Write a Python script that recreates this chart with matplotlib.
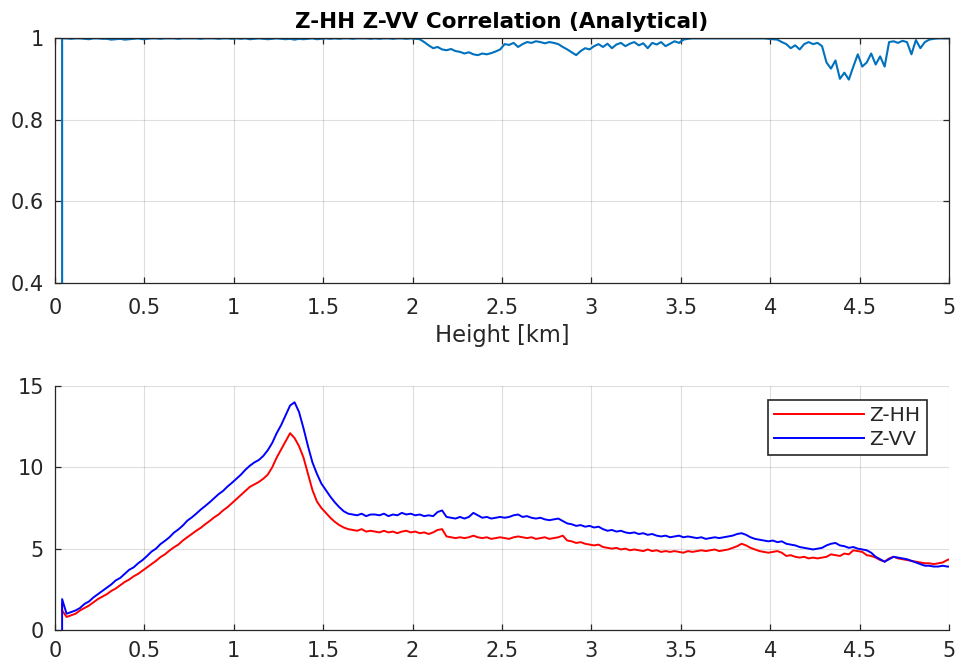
import numpy as np
import matplotlib
matplotlib.use("Agg")
from matplotlib import pyplot as plt

# heights [km]: first entry repeated so the curves start with a vertical jump
h_start = 0.04
h_step = 0.025
n_pts = 200

corr_start = 0.30
corr = [
	0.999, 0.999, 0.998, 0.999, 0.999, 0.998, 0.997, 0.999, 0.999, 0.998,
	0.998, 0.996, 0.997, 0.998, 0.996, 0.997, 0.998, 0.999, 0.997, 0.998,
	0.999, 0.999, 0.998, 0.999, 0.999, 0.999, 0.998, 0.999, 0.999, 0.999,
	0.999, 0.998, 0.999, 0.999, 0.999, 0.998, 0.999, 0.999, 0.998, 0.999,
	0.998, 0.999, 0.997, 0.998, 0.999, 0.998, 0.997, 0.998, 0.999, 0.998,
	0.997, 0.998, 0.996, 0.998, 0.997, 0.998, 0.999, 0.997, 0.998, 0.999,
	0.998, 0.999, 0.998, 0.999, 0.999, 0.998, 0.999, 0.999, 0.999, 0.998,
	0.999, 0.998, 0.999, 0.999, 0.998, 0.999, 0.999, 0.998, 0.999, 0.998,
	0.997, 0.990, 0.982, 0.975, 0.978, 0.972, 0.970, 0.973, 0.968, 0.966,
	0.962, 0.965, 0.960, 0.958, 0.962, 0.960, 0.963, 0.967, 0.972, 0.985,
	0.983, 0.988, 0.978, 0.985, 0.990, 0.988, 0.992, 0.990, 0.987, 0.990,
	0.988, 0.985, 0.978, 0.972, 0.965, 0.958, 0.968, 0.975, 0.972, 0.980,
	0.985, 0.978, 0.986, 0.975, 0.984, 0.988, 0.980, 0.986, 0.990, 0.982,
	0.987, 0.975, 0.988, 0.984, 0.990, 0.980, 0.986, 0.992, 0.988, 0.996,
	0.998, 0.999, 0.999, 0.999, 0.999, 0.999, 0.999, 0.999, 0.999, 0.999,
	0.999, 0.999, 0.999, 0.999, 0.999, 0.999, 0.999, 0.999, 0.998, 0.997,
	0.996, 0.990, 0.985, 0.975, 0.982, 0.972, 0.985, 0.990, 0.985, 0.988,
	0.980, 0.940, 0.925, 0.945, 0.900, 0.915, 0.898, 0.930, 0.960, 0.930,
	0.940, 0.962, 0.935, 0.955, 0.930, 0.990, 0.992, 0.988, 0.993, 0.990,
	0.960, 0.995, 0.975, 0.990, 0.996, 0.998, 0.999, 0.999, 0.999, 0.999,
]

zhh_start = 1.6
zhh = [
	1.20, 0.80, 0.90, 1.00, 1.20, 1.35, 1.50, 1.70, 1.90, 2.05,
	2.20, 2.40, 2.55, 2.75, 2.95, 3.10, 3.30, 3.45, 3.65, 3.85,
	4.05, 4.25, 4.48, 4.65, 4.88, 5.08, 5.25, 5.50, 5.70, 5.90,
	6.10, 6.28, 6.50, 6.70, 6.92, 7.10, 7.35, 7.55, 7.80, 8.05,
	8.30, 8.55, 8.80, 8.95, 9.10, 9.30, 9.55, 10.0, 10.6, 11.1,
	11.6, 12.1, 11.8, 11.3, 10.6, 9.60, 8.60, 7.90, 7.50, 7.20,
	6.90, 6.65, 6.45, 6.30, 6.20, 6.15, 6.10, 6.20, 6.05, 6.10,
	6.05, 6.00, 6.10, 6.00, 6.05, 5.95, 6.05, 6.10, 6.00, 6.05,
	5.95, 6.00, 5.90, 6.00, 6.15, 6.20, 5.75, 5.70, 5.65, 5.70,
	5.65, 5.70, 5.80, 5.70, 5.65, 5.70, 5.60, 5.65, 5.70, 5.65,
	5.60, 5.70, 5.75, 5.70, 5.65, 5.70, 5.60, 5.65, 5.70, 5.60,
	5.65, 5.70, 5.80, 5.50, 5.45, 5.35, 5.40, 5.30, 5.25, 5.20,
	5.25, 5.10, 5.05, 5.00, 5.05, 4.95, 5.00, 4.90, 4.95, 4.90,
	4.85, 4.95, 4.85, 4.90, 4.80, 4.85, 4.80, 4.85, 4.80, 4.75,
	4.85, 4.80, 4.85, 4.90, 4.85, 4.90, 4.95, 4.85, 4.90, 4.95,
	5.05, 5.15, 5.30, 5.20, 5.05, 4.95, 4.85, 4.80, 4.75, 4.80,
	4.85, 4.75, 4.55, 4.60, 4.50, 4.45, 4.50, 4.40, 4.45, 4.40,
	4.45, 4.50, 4.65, 4.60, 4.55, 4.70, 4.65, 4.90, 4.85, 4.80,
	4.60, 4.55, 4.45, 4.30, 4.20, 4.40, 4.50, 4.40, 4.35, 4.30,
	4.25, 4.20, 4.15, 4.10, 4.10, 4.05, 4.10, 4.15, 4.30, 4.40,
]

zvv_start = 0.0
zvv = [
	1.90, 1.00, 1.10, 1.20, 1.35, 1.60, 1.75, 2.00, 2.20, 2.40,
	2.60, 2.80, 3.05, 3.20, 3.45, 3.70, 3.85, 4.10, 4.30, 4.55,
	4.82, 5.00, 5.28, 5.48, 5.70, 5.98, 6.18, 6.42, 6.72, 6.92,
	7.15, 7.40, 7.62, 7.85, 8.10, 8.35, 8.55, 8.82, 9.05, 9.30,
	9.55, 9.85, 10.1, 10.3, 10.45, 10.7, 11.05, 11.5, 12.1, 12.6,
	13.2, 13.8, 14.0, 13.4, 12.4, 11.3, 10.3, 9.60, 9.00, 8.60,
	8.20, 7.85, 7.55, 7.30, 7.15, 7.10, 7.05, 7.15, 7.00, 7.10,
	7.10, 7.05, 7.15, 7.00, 7.10, 7.05, 7.20, 7.10, 7.15, 7.05,
	7.10, 7.00, 7.05, 7.00, 7.25, 7.35, 6.95, 6.90, 6.85, 6.95,
	6.85, 6.95, 7.20, 7.05, 6.90, 6.95, 6.85, 6.90, 6.95, 6.90,
	6.95, 7.05, 7.10, 6.95, 7.00, 6.90, 6.85, 6.90, 6.80, 6.75,
	6.80, 6.85, 6.70, 6.55, 6.50, 6.40, 6.45, 6.35, 6.40, 6.30,
	6.35, 6.20, 6.10, 6.15, 6.05, 6.10, 6.00, 5.95, 6.00, 5.90,
	5.95, 5.85, 5.90, 5.80, 5.75, 5.80, 5.70, 5.75, 5.80, 5.70,
	5.75, 5.70, 5.65, 5.70, 5.60, 5.65, 5.70, 5.65, 5.70, 5.75,
	5.80, 5.90, 5.95, 5.85, 5.70, 5.60, 5.55, 5.50, 5.45, 5.50,
	5.40, 5.45, 5.30, 5.25, 5.20, 5.10, 5.05, 5.00, 4.95, 5.00,
	5.05, 5.20, 5.30, 5.35, 5.20, 5.15, 5.05, 5.10, 5.00, 4.95,
	4.90, 4.75, 4.50, 4.35, 4.20, 4.35, 4.50, 4.45, 4.40, 4.35,
	4.25, 4.15, 4.05, 3.95, 3.95, 3.90, 3.90, 3.95, 3.90, 3.90,
]

x_ticks = [0, 0.5, 1, 1.5, 2, 2.5, 3, 3.5, 4, 4.5, 5]
x_tick_labels = ["0", "0.5", "1", "1.5", "2", "2.5", "3", "3.5", "4", "4.5", "5"]
corr_ticks = [0.4, 0.6, 0.8, 1.0]
corr_tick_labels = ["0.4", "0.6", "0.8", "1"]
z_ticks = [0, 5, 10, 15]

DARK = (0.15, 0.15, 0.15)


def style_axes(ax, box, xpad):
	for side in ["left", "bottom", "top", "right"]:
		ax.spines[side].set_color(DARK)
		ax.spines[side].set_linewidth(0.9)
	if not box:
		ax.spines["top"].set_visible(False)
		ax.spines["right"].set_visible(False)
	ax.tick_params(direction="in", length=4, width=0.9, colors=DARK,
				   labelsize=15, top=box, right=box)
	ax.tick_params(axis="x", pad=xpad)
	ax.tick_params(axis="y", pad=8)
	ax.grid(True, color=DARK, alpha=0.15, linewidth=0.8)
	ax.set_axisbelow(True)


def main():
	plt.rcParams["font.family"] = ["DejaVu Sans"]
	heights = np.concatenate(([h_start], h_start + h_step * np.arange(n_pts)))
	corr_all = np.array([corr_start] + corr)
	zhh_all = np.array([zhh_start] + zhh)
	zvv_all = np.array([zvv_start] + zvv)

	fig = plt.figure(figsize=(9.61, 6.63), dpi=100)
	ax1 = fig.add_axes([0.0572, 0.5732, 0.9303, 0.3695])
	ax2 = fig.add_axes([0.0572, 0.0498, 0.9303, 0.3680])

	ax1.plot(heights, corr_all, color="#0072BD", linewidth=1.5)
	ax1.set_xlim(0, 5)
	ax1.set_ylim(0.4, 1)
	ax1.set_xticks(x_ticks)
	ax1.set_xticklabels(x_tick_labels)
	ax1.set_yticks(corr_ticks)
	ax1.set_yticklabels(corr_tick_labels)
	style_axes(ax1, box=True, xpad=11)
	ax1.set_title("Z-HH Z-VV Correlation (Analytical)", fontsize=15.5,
				  fontweight="bold", color="black", pad=7)
	ax1.set_xlabel("Height [km]", fontsize=16.3, color=DARK, labelpad=4)

	ax2.plot(heights, zhh_all, color="red", linewidth=1.4, label="Z-HH")
	ax2.plot(heights, zvv_all, color="blue", linewidth=1.4, label="Z-VV")
	ax2.set_xlim(0, 5)
	ax2.set_ylim(0, 15)
	ax2.set_xticks(x_ticks)
	ax2.set_xticklabels(x_tick_labels)
	ax2.set_yticks(z_ticks)
	style_axes(ax2, box=False, xpad=8)
	leg = ax2.legend(loc="upper right", bbox_to_anchor=(0.975, 0.943), fontsize=14.5,
					 fancybox=False, edgecolor=DARK, framealpha=1,
					 handlelength=4.5, borderpad=0.3, labelspacing=0.25,
					 handletextpad=0.25, borderaxespad=0)
	leg.get_frame().set_linewidth(1.2)
	for t in leg.get_texts():
		t.set_color(DARK)

	fig.savefig("out.png", dpi=100)


if __name__ == "__main__":
	main()
